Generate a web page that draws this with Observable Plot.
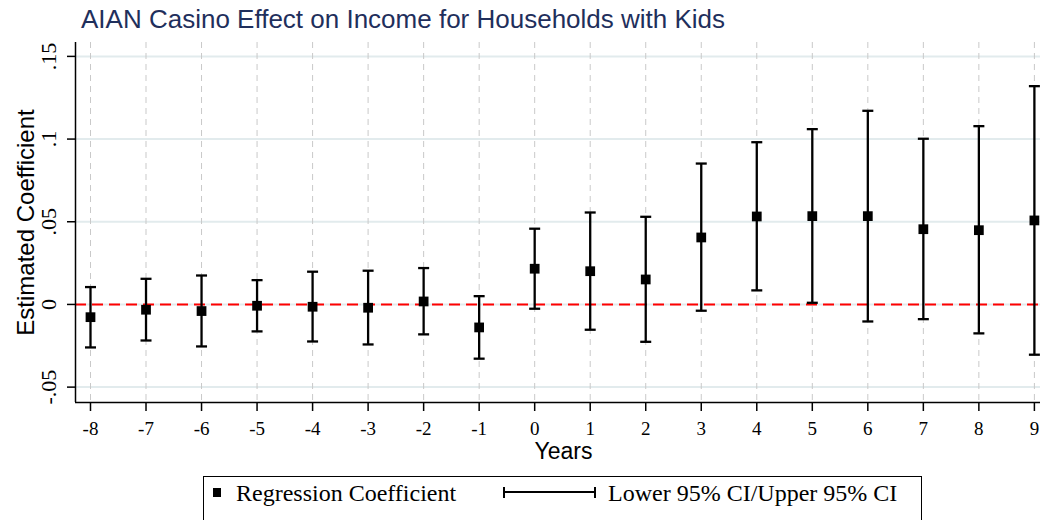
<!DOCTYPE html>
<html>
<head>
<meta charset="utf-8">
<script src="https://cdn.jsdelivr.net/npm/d3@7"></script>
<script src="https://cdn.jsdelivr.net/npm/@observablehq/plot@0.6"></script>
<style>
  body { margin: 0; background: #fff; width: 1040px; height: 520px; overflow: hidden; position: relative; }
  #title { position: absolute; left: 81px; top: 4px; font: 26px "Liberation Sans", Arial, sans-serif; color: #1f2f5c; white-space: nowrap; }
  #chart { position: absolute; left: 0; top: 40px; }
  #legend { position: absolute; left: 203px; top: 476px; width: 719px; height: 70px; border: 1px solid #000; box-sizing: border-box; background: #fff;
            font: 24px "Liberation Serif", "Times New Roman", serif; line-height: 1; color: #000; }
  #legend .lbl { position: absolute; top: 4px; white-space: nowrap; }
  #legend .sq { position: absolute; left: 9px; top: 11px; width: 8px; height: 9px; background: #000; }
  #legend .bar { position: absolute; left: 299px; top: 14px; width: 93px; height: 2px; background: #000; }
  #legend .cap { position: absolute; top: 10px; width: 2px; height: 11px; background: #000; }
</style>
</head>
<body>
<div id="title">AIAN Casino Effect on Income for Households with Kids</div>
<div id="chart"></div>
<div id="legend">
  <div class="sq"></div>
  <span class="lbl" style="left:32px">Regression Coefficient</span>
  <div class="bar"></div>
  <div class="cap" style="left:299px"></div>
  <div class="cap" style="left:390px"></div>
  <span class="lbl" style="left:404px">Lower 95% CI/Upper 95% CI</span>
</div>
<script>
// Event-study estimates: years relative to casino opening
const years = [-8, -7, -6, -5, -4, -3, -2, -1, 0, 1, 2, 3, 4, 5, 6, 7, 8, 9];
const coef  = [-0.0077, -0.0032, -0.0040, -0.0008, -0.0014, -0.0020, 0.0018, -0.0139, 0.0216,
               0.0201, 0.0151, 0.0405, 0.0532, 0.0534, 0.0534, 0.0455, 0.0449, 0.0508];
const lower = [-0.0260, -0.0218, -0.0254, -0.0163, -0.0224, -0.0242, -0.0181, -0.0328, -0.0026,
               -0.0153, -0.0226, -0.0038, 0.0085, 0.0010, -0.0103, -0.0089, -0.0175, -0.0304];
const upper = [0.0105, 0.0155, 0.0175, 0.0147, 0.0198, 0.0204, 0.0220, 0.0050, 0.0458,
               0.0556, 0.0530, 0.0852, 0.0981, 0.1060, 0.1171, 0.1002, 0.1078, 0.1320];

const xTicks = years;
const yTicks = [-0.05, 0, 0.05, 0.1, 0.15];
const yTickLabels = ["-.05", "0", ".05", ".1", ".15"];
const xDomain = [-8.27, 9.11];
const yDomain = [-0.0593, 0.1584];

const rows = years.map((year, i) => ({year, coef: coef[i], lower: lower[i], upper: upper[i]}));

const sans = "'Liberation Sans', Arial, sans-serif";
const serif = "'Liberation Serif', 'Times New Roman', serif";

// horizontal cap drawn at each confidence bound
const capSymbol = {draw(ctx) { ctx.moveTo(-5.5, 0); ctx.lineTo(5.5, 0); }};

const chart = Plot.plot({
  width: 1040,
  height: 430,
  marginTop: 2,
  marginLeft: 75,
  marginRight: 0,
  marginBottom: 68,
  style: {background: "transparent", overflow: "visible"},
  x: {domain: xDomain},
  y: {domain: yDomain},
  marks: [
    Plot.gridY(yTicks, {stroke: "#e2ebed", strokeOpacity: 1, strokeWidth: 2}),
    Plot.gridX(xTicks, {stroke: "#c9c9c9", strokeOpacity: 1, strokeWidth: 1, strokeDasharray: "6,5"}),
    Plot.ruleY([0], {stroke: "#ff0000", strokeWidth: 2, strokeDasharray: "11,6"}),
    Plot.ruleX(rows, {x: "year", y1: "lower", y2: "upper", stroke: "#000", strokeWidth: 2.3}),
    Plot.dot(rows, {x: "year", y: "lower", symbol: capSymbol, fill: "none", stroke: "#000", strokeWidth: 2.3}),
    Plot.dot(rows, {x: "year", y: "upper", symbol: capSymbol, fill: "none", stroke: "#000", strokeWidth: 2.3}),
    Plot.dot(rows, {x: "year", y: "coef", symbol: "square", r: 5.5, fill: "#000", stroke: "none"}),
    Plot.ruleX([xDomain[0]], {stroke: "#000", strokeWidth: 1.5}),
    Plot.ruleY([yDomain[0]], {stroke: "#000", strokeWidth: 1.5}),
    Plot.axisX({ticks: xTicks, tickSize: 9, tickPadding: 10, tickFormat: d => String(d),
                fontSize: 19, fontFamily: serif, strokeWidth: 1.5, label: null}),
    Plot.axisY({ticks: yTicks, tickSize: 8, tickPadding: 12, tickRotate: -90,
                tickFormat: (d, i) => yTickLabels[yTicks.indexOf(d)],
                fontSize: 22, fontFamily: serif, strokeWidth: 1.5, label: null}),
    Plot.text(["Years"], {frameAnchor: "bottom", dx: 5.5, dy: 56, lineAnchor: "bottom", textAnchor: "middle",
                          fontSize: 23, fontFamily: sans, fill: "#000"}),
    Plot.text(["Estimated Coefficient"], {frameAnchor: "left", dx: -42, rotate: -90, lineAnchor: "bottom",
                                          textAnchor: "middle", fontSize: 24, fontFamily: sans, fill: "#000"})
  ]
});
document.getElementById("chart").appendChild(chart);
</script>
</body>
</html>
